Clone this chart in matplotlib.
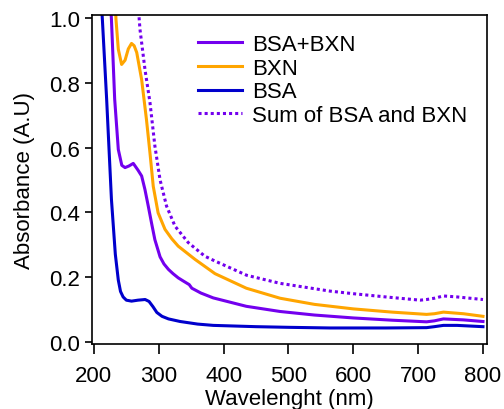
import matplotlib
matplotlib.use("Agg")
import matplotlib.pyplot as plt

plt.rcParams['font.family'] = ['Liberation Sans', 'DejaVu Sans']

# BSA
bsa_wl = [207, 213, 219.6, 227, 233, 237.6, 241, 245, 250, 258, 268, 279, 285, 291, 297,
          305, 315, 333, 360, 384, 450, 500, 564, 650, 713, 725, 739, 760, 800]
bsa_abs = [1.2, 0.997, 0.75, 0.44, 0.27, 0.19, 0.155, 0.138, 0.128, 0.125, 0.128, 0.13,
           0.124, 0.108, 0.09, 0.078, 0.07, 0.062, 0.054, 0.050, 0.046, 0.044, 0.042,
           0.042, 0.043, 0.046, 0.05, 0.05, 0.046]

# BSA+BXN
mix_wl = [224, 227, 232, 237.6, 243, 248, 254, 260.7, 268, 273.6, 278.7, 283.8, 289, 294,
          302, 308, 315, 322, 330, 338, 347, 351, 365, 384, 435, 487, 540, 600, 660, 713,
          725, 739, 770, 800]
mix_abs = [1.1, 0.997, 0.75, 0.594, 0.545, 0.538, 0.543, 0.551, 0.53, 0.512, 0.47, 0.419,
           0.365, 0.315, 0.262, 0.24, 0.223, 0.21, 0.197, 0.187, 0.176, 0.165, 0.15, 0.135,
           0.109, 0.093, 0.082, 0.073, 0.066, 0.061, 0.064, 0.07, 0.067, 0.062]

# BXN
bxn_wl = [232, 234, 237.6, 242.7, 248, 253, 258, 262, 266, 273.6, 281, 286.4, 291.5, 299,
          309.6, 320, 330, 356, 386.7, 435, 487, 540, 600, 660, 713, 725, 739, 770, 800]
bxn_abs = [1.1, 0.997, 0.904, 0.857, 0.87, 0.905, 0.922, 0.915, 0.894, 0.81, 0.687, 0.584,
           0.48, 0.398, 0.347, 0.318, 0.295, 0.254, 0.21, 0.165, 0.134, 0.115, 0.101,
           0.091, 0.084, 0.086, 0.091, 0.086, 0.078]

# sum of BSA and BXN
sum_wl = [266, 271, 278.7, 286.4, 294, 302, 312, 325, 345.5, 371, 386.7, 435.6, 487, 564,
          600, 650, 703, 713, 725, 739, 760, 800]
sum_abs = [1.1, 0.966, 0.842, 0.74, 0.605, 0.50, 0.419, 0.357, 0.306, 0.264, 0.249, 0.205,
           0.18, 0.156, 0.148, 0.138, 0.128, 0.13, 0.134, 0.141, 0.138, 0.13]

purple = '#7300EE'
orange = '#FFA500'
blue = '#0000CC'

fig = plt.figure(figsize=(5.04, 4.10), dpi=100)
ax = fig.add_axes([0.1825, 0.159, 0.7835, 0.802])

ax.plot(mix_wl, mix_abs, color=purple, lw=2.2, label='BSA+BXN')
ax.plot(bxn_wl, bxn_abs, color=orange, lw=2.2, label='BXN')
ax.plot(bsa_wl, bsa_abs, color=blue, lw=2.2, label='BSA')
ax.plot(sum_wl, sum_abs, color=purple, lw=2.2, ls=(0, (1, 1)), label='Sum of BSA and BXN')

ax.set_xlim(197, 806)
ax.set_ylim(-0.007, 1.01)
ax.set_xticks([200, 300, 400, 500, 600, 700, 800])
ax.set_yticks([0.0, 0.2, 0.4, 0.6, 0.8, 1.0])
ax.set_yticklabels(['0.0', '0.2', '0.4', '0.6', '0.8', '1.0'])

for s in ax.spines.values():
    s.set_linewidth(1.2)
ax.tick_params(direction='out', width=1.2, labelsize=16)
ax.tick_params(axis='x', length=7, pad=8.5)
ax.tick_params(axis='y', length=5, pad=3.5)

ax.set_xlabel('Wavelenght (nm)', fontsize=16, labelpad=1.5)
ax.set_ylabel('Absorbance (A.U)', fontsize=16, labelpad=10)

ax.legend(loc='upper left', bbox_to_anchor=(0.219, 1.003), frameon=False, fontsize=16,
          handlelength=1.95, labelspacing=0.12, handletextpad=0.45, borderpad=0.4)

fig.savefig('out.png', dpi=100)
